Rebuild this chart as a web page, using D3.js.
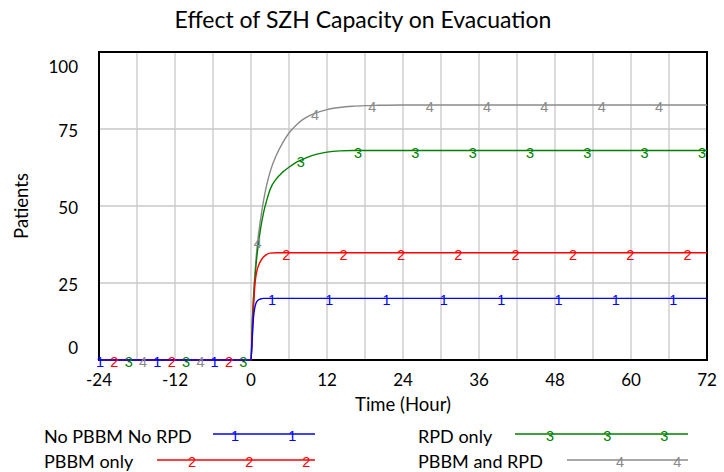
<!DOCTYPE html>
<html><head><meta charset="utf-8">
<script src="https://cdn.jsdelivr.net/npm/d3@7/dist/d3.min.js"></script>
<style>body{margin:0;background:#fff}svg{display:block}</style>
</head><body><svg id="c" width="724" height="472"></svg>
<script>
// ---- data ----
const times        = [-24, 0, 0.2, 0.4, 0.6, 0.8, 1, 1.5, 2, 2.5, 3, 4, 5, 6, 7, 8, 9, 10, 11, 12, 14, 16, 18, 20, 24, 72];
const noPbbmNoRpd  = [0, 0, 7, 14, 17, 18.5, 19.2, 19.8, 20, 20, 20, 20, 20, 20, 20, 20, 20, 20, 20, 20, 20, 20, 20, 20, 20, 20];
const pbbmOnly     = [0, 0, 9, 17, 24, 27.5, 29.5, 32, 33.5, 34.3, 34.7, 34.8, 34.8, 34.8, 34.8, 34.8, 34.8, 34.8, 34.8, 34.8, 34.8, 34.8, 34.8, 34.8, 34.8, 34.8];
const rpdOnly      = [0, 0, 12, 20, 26, 31, 35, 42.5, 48, 52, 55.3, 58.8, 61, 62.6, 64, 65, 65.9, 66.6, 67.1, 67.5, 67.9, 68, 68, 68, 68, 68];
const pbbmAndRpd   = [0, 0, 12, 21, 27.5, 33, 37.5, 45.5, 52, 57, 61, 66.5, 70.5, 73.7, 76, 77.8, 79.1, 80, 80.7, 81.3, 82, 82.4, 82.6, 82.7, 82.8, 82.8];
const seriesNames  = ["No PBBM No RPD", "PBBM only", "RPD only", "PBBM and RPD"];
const seriesKeys   = ["1", "2", "3", "4"];
const xTicks = [-24, -12, 0, 12, 24, 36, 48, 60, 72];
const yTicks = [0, 25, 50, 75, 100];
const xGrid  = [-18, -12, -6, 0, 6, 12, 18, 24, 30, 36, 42, 48, 54, 60, 66];
const yGrid  = [25, 50, 75];
const title = "Effect of SZH Capacity on Evacuation";
const xTitle = "Time (Hour)";
const yTitle = "Patients";

// ---- style ----
const colors = ["#0000ff", "#ff0000", "#008000", "#8a8a8a"];
const values = [noPbbmNoRpd, pbbmOnly, rpdOnly, pbbmAndRpd];
const textFont = "Lato, 'Open Sans', sans-serif";
const markFont = "'Liberation Sans', Arial, sans-serif";
const markerStart = -23.84, markerStep = 9.05, markerShift = 2.27;

const svg = d3.select("#c");
const x = d3.scaleLinear().domain([-24, 72]).range([99, 707]);
const y = d3.scaleLinear().domain([0, 100]).range([360, 52]);

svg.append("rect").attr("width", 724).attr("height", 472).attr("fill", "#fff");

// title
svg.append("text").attr("x", 363).attr("y", 28).attr("text-anchor", "middle")
  .attr("font-family", textFont).attr("font-size", 23).attr("fill", "#000").text(title);

// grid
const g = svg.append("g");
g.selectAll(".vg").data(xGrid).join("line")
  .attr("x1", d => x(d)).attr("x2", d => x(d)).attr("y1", y(0)).attr("y2", y(100))
  .attr("stroke", "#c8c8c8").attr("stroke-width", 1.3);
g.selectAll(".hg").data(yGrid).join("line")
  .attr("y1", d => y(d)).attr("y2", d => y(d)).attr("x1", x(-24)).attr("x2", x(72))
  .attr("stroke", "#c8c8c8").attr("stroke-width", 1.3);

// frame
svg.append("rect").attr("x", x(-24)).attr("y", y(100)).attr("width", x(72) - x(-24)).attr("height", y(0) - y(100))
  .attr("fill", "none").attr("stroke", "#000").attr("stroke-width", 2);

// tick labels
svg.selectAll(".xt").data(xTicks).join("text")
  .attr("x", d => x(d)).attr("y", 386).attr("text-anchor", "middle")
  .attr("font-family", textFont).attr("font-size", 17).text(d => d);
svg.selectAll(".yt").data(yTicks).join("text")
  .attr("x", 78).attr("y", d => d === 100 ? y(d) + 21 : d === 0 ? y(d) - 6 : y(d) + 8)
  .attr("text-anchor", "end")
  .attr("font-family", textFont).attr("font-size", 17).text(d => d);

svg.append("text").attr("x", 403).attr("y", 411).attr("text-anchor", "middle")
  .attr("font-family", textFont).attr("font-size", 18.5).text(xTitle);
svg.append("text").attr("transform", "translate(28,206) rotate(-90)").attr("text-anchor", "middle")
  .attr("font-family", textFont).attr("font-size", 18.5).text(yTitle);

// lines
const line = d3.line().x(d => x(d[0])).y(d => y(d[1])).curve(d3.curveMonotoneX);
const order = [3, 2, 1, 0];
order.forEach(i => {
  const pts = times.map((t, j) => [t, values[i][j]]);
  svg.append("path").datum(pts).attr("d", line).attr("fill", "none")
    .attr("stroke", colors[i]).attr("stroke-width", 1.4);
});

// markers on lines
function interp(vals, t) {
  const j = d3.bisectRight(times, t) - 1;
  if (j >= times.length - 1) return vals[vals.length - 1];
  const t0 = times[j], t1 = times[j + 1];
  return vals[j] + (vals[j + 1] - vals[j]) * (t - t0) / (t1 - t0);
}
order.forEach(i => {
  const ts = [];
  for (let t = markerStart + i * markerShift; t <= 72; t += markerStep) ts.push(t);
  svg.selectAll(null).data(ts).join("text")
    .attr("x", t => x(t)).attr("y", t => y(interp(values[i], t)) + 7)
    .attr("text-anchor", "middle").attr("font-family", markFont).attr("font-size", 14.5)
    .attr("fill", colors[i]).text(seriesKeys[i]);
});

// legend
const legend = [
  {tx: 44,  ty: 443, lx0: 213, lx1: 315, ly: 434, m0: 235},
  {tx: 44,  ty: 468, lx0: 157, lx1: 315, ly: 460, m0: 192},
  {tx: 418, ty: 443, lx0: 515, lx1: 688, ly: 434, m0: 550},
  {tx: 418, ty: 468, lx0: 567, lx1: 688, ly: 460, m0: 620}
];
legend.forEach((L, i) => {
  svg.append("text").attr("x", L.tx).attr("y", L.ty).attr("font-family", textFont)
    .attr("font-size", 18).text(seriesNames[i]);
  svg.append("line").attr("x1", L.lx0).attr("x2", L.lx1).attr("y1", L.ly).attr("y2", L.ly)
    .attr("stroke", colors[i]).attr("stroke-width", 1.4);
  const ms = d3.range(L.m0, L.lx1, 57.2);
  svg.selectAll(null).data(ms).join("text").attr("x", d => d).attr("y", L.ly + 7)
    .attr("text-anchor", "middle").attr("font-family", markFont).attr("font-size", 14.5)
    .attr("fill", colors[i]).text(seriesKeys[i]);
});
</script></body></html>
